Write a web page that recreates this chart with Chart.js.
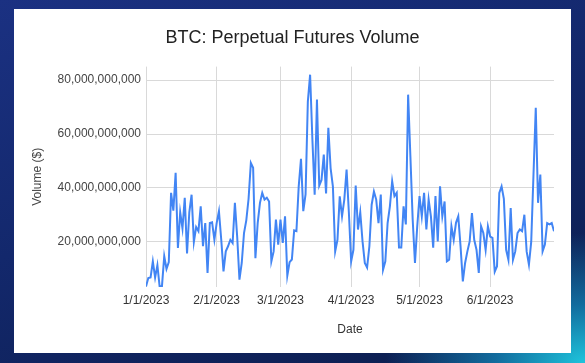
<!DOCTYPE html>
<html>
<head>
<meta charset="utf-8">
<script src="https://cdn.jsdelivr.net/npm/chart.js@4.4.1/dist/chart.umd.min.js"></script>
<style>
  html, body { margin: 0; padding: 0; }
  body {
    width: 585px;
    height: 363px;
    overflow: hidden;
    position: relative;
    background:
      radial-gradient(ellipse 200px 130px at 585px 363px, #1ec4dc 0%, rgba(20, 140, 190, 0.7) 45%, rgba(14, 40, 100, 0) 100%),
      linear-gradient(160deg, #1b3182 0%, #13286c 45%, #0b1d4c 100%);
  }
  .card { position: absolute; left: 14px; top: 9px; width: 557px; height: 344px; background: #fff; }
  canvas { position: absolute; left: 0; top: 0; }
</style>
</head>
<body>
<div class="card"></div>
<canvas id="chart" width="585" height="363"></canvas>
<script>
// daily volume, billions of USD, 1/1/2023 .. 6/29/2023
const volume = [
  3.5, 6.6, 6.8, 12.8, 6.8, 11.4, 3.3, 3.6, 14.7, 10,
  12.5, 38.2, 31.6, 45.6, 17.8, 31, 25, 36.4, 15.7, 31,
  37.5, 20, 25.5, 24, 33.2, 18.4, 27, 8.5, 27, 27.3,
  20.8, 27, 31.4, 21, 9.1, 16.5, 18.4, 20.8, 19.6, 34.5,
  22, 6, 12.2, 23.3, 28, 36, 49.3, 47.5, 14, 27,
  34.5, 38.2, 35.7, 36.4, 35, 12.8, 16.5, 28.3, 19, 28.3,
  19.6, 29.5, 7.5, 12.5, 13.5, 24.3, 24, 40.6, 50.8, 31.4,
  37.6, 72, 82, 58, 37.5, 72.8, 40.9, 43, 52.4, 38,
  62.3, 47.3, 40.5, 16.5, 20.8, 36.9, 29.5, 35.7, 46.8, 31,
  12.8, 17.1, 40.9, 24.6, 31, 20.2, 12.2, 10.5, 18.4, 33.8,
  38.7, 35.7, 27, 37.6, 9.7, 12.8, 27, 33.2, 42.5, 37,
  38.2, 17.9, 17.9, 33.2, 26.5, 74.6, 51.7, 28.3, 12.2, 25.8,
  37, 29.5, 38.2, 24.6, 35.7, 29.5, 17.9, 37, 20.2, 40.6,
  29.5, 35, 12.8, 13.4, 25.8, 20.8, 27.1, 29.5, 18.4, 5.4,
  12.2, 16.5, 20.2, 30.7, 20.8, 17.1, 8.5, 25.8, 23.3, 17.1,
  25.8, 22, 21.5, 9, 11, 38.2, 40.6, 36, 17.1, 13.4,
  32.6, 13.4, 16.5, 23.3, 24.6, 24, 30.1, 16.5, 11.6, 20,
  45, 69.7, 34.5, 45, 16.5, 19, 27, 26.5, 27, 24
];

const tickDays = [0, 31, 59, 90, 120, 151];
const tickLabels = ['1/1/2023', '2/1/2023', '3/1/2023', '4/1/2023', '5/1/2023', '6/1/2023'];
const yTicks = [20, 40, 60, 80];

const FONT = "Arial, 'Liberation Sans', sans-serif";
const GRID = '#d9d9d9';

function withCommas(n) {
  return String(n).replace(/\B(?=(\d{3})+(?!\d))/g, ',');
}

new Chart(document.getElementById('chart').getContext('2d'), {
  type: 'line',
  data: {
    datasets: [{
      data: volume.map((v, i) => ({ x: i, y: v })),
      borderColor: '#4285f4',
      borderWidth: 2,
      pointRadius: 0,
      tension: 0,
      fill: false
    }]
  },
  options: {
    responsive: false,
    animation: false,
    layout: { padding: { left: 14, right: 14, top: 0, bottom: 0 } },
    plugins: {
      legend: { display: false },
      tooltip: { enabled: false },
      title: {
        display: true,
        text: 'BTC: Perpetual Futures Volume',
        color: '#222',
        font: { family: FONT, size: 18, weight: 'normal' },
        padding: { top: 27, bottom: 18 }
      }
    },
    scales: {
      x: {
        type: 'linear',
        min: 0,
        max: volume.length - 1,
        afterBuildTicks: (s) => { s.ticks = tickDays.map(d => ({ value: d })); },
        afterFit: (s) => { s.height = 76; },
        grid: { color: GRID, drawTicks: false },
        border: { display: false },
        ticks: {
          autoSkip: false,
          maxRotation: 0,
          padding: 6,
          color: '#333',
          font: { family: FONT, size: 12 },
          callback: (v, i) => tickLabels[i]
        },
        title: {
          display: true,
          text: 'Date',
          color: '#333',
          font: { family: FONT, size: 12 },
          padding: { top: 0, bottom: 26 }
        }
      },
      y: {
        min: 3.3,
        max: 85,
        afterBuildTicks: (s) => { s.ticks = yTicks.map(v => ({ value: v })); },
        afterFit: (s) => { s.width = 132; },
        grid: { color: GRID, drawTicks: false },
        border: { display: false },
        ticks: {
          padding: 5,
          color: '#444',
          font: { family: FONT, size: 12 },
          callback: (v) => withCommas(v * 1e9)
        },
        title: {
          display: true,
          text: 'Volume ($)',
          color: '#444',
          font: { family: FONT, size: 12 },
          padding: { top: 16, bottom: 0 }
        }
      },
      yRight: {
        position: 'right',
        afterFit: (s) => { s.width = 17; },
        grid: { display: false },
        border: { display: false },
        ticks: { display: false }
      }
    }
  }
});
</script>
</body>
</html>
